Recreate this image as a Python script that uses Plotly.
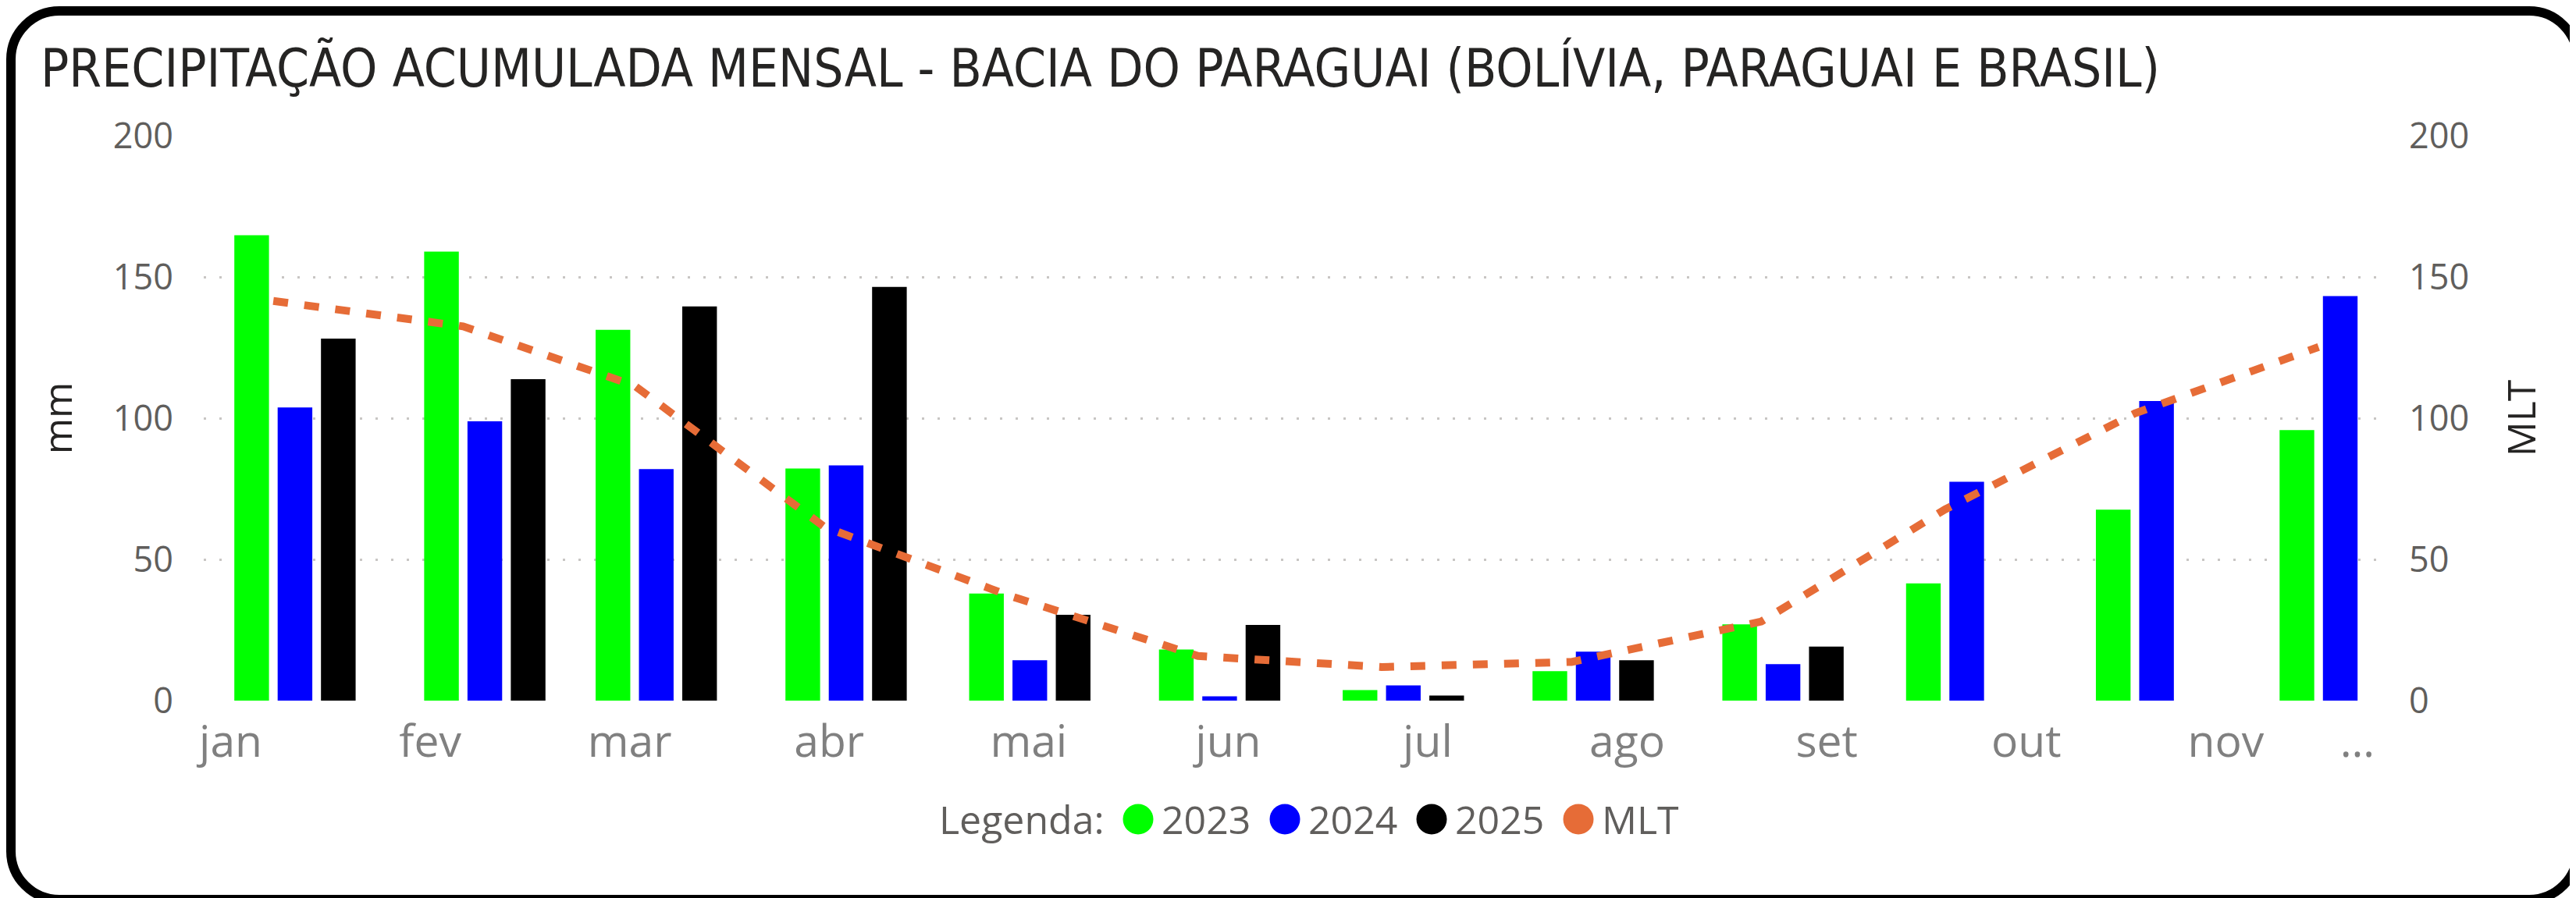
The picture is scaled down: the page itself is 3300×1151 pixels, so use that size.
import pandas as pd
import plotly.graph_objects as go

# ---------------- data ----------------
months = ["2025-01-01", "2025-02-01", "2025-03-01", "2025-04-01", "2025-05-01", "2025-06-01",
          "2025-07-01", "2025-08-01", "2025-09-01", "2025-10-01", "2025-11-01", "2025-12-01"]
month_labels = ["jan", "fev", "mar", "abr", "mai", "jun", "jul", "ago", "set", "out", "nov", "dez"]

v2023 = [164.8, 159.0, 131.3, 82.2, 37.9, 18.1, 3.7, 10.4, 27.0, 41.5, 67.6, 95.8]
v2024 = [103.8, 98.9, 82.0, 83.3, 14.3, 1.5, 5.4, 17.3, 12.9, 77.5, 106.1, 143.2]
v2025 = [128.2, 113.8, 139.6, 146.5, 30.4, 26.8, 1.8, 14.3, 19.1, None, None, None]
mlt = [141.5, 132.5, 111.5, 61.5, 37.3, 15.8, 11.9, 13.7, 28.0, 67.7, 101.7, 125.2]

y_ticks = [0, 50, 100, 150, 200]
series_names = ["2023", "2024", "2025", "MLT"]
series_colors = ["#00FF00", "#0000FF", "#000000", "#E66C37"]

title_text = "PRECIPITAÇÃO ACUMULADA MENSAL - BACIA DO PARAGUAI (BOLÍVIA, PARAGUAI E BRASIL)"

# ---------------- layout geometry ----------------
W, H = 3300, 1151
L, R, T, B = 253, 250, 166, 261
PW, PH = W - L - R, H - T - B

BARGAP = 0.242
BARGROUPGAP = 0.2
min_diff_days = 28.0
pitch_days = min_diff_days * (1 - BARGAP) / 3.0

base = pd.Timestamp(months[0])
x_range = [str(base - pd.Timedelta(days=14.9)), str(pd.Timestamp(months[-1]) + pd.Timedelta(days=7.65))]

# line points sit between first and second bar of each group
line_x = [str(pd.Timestamp(m) - pd.Timedelta(days=pitch_days / 2.0)) for m in months]

# category tick labels (evenly spaced as in the source visual; last one truncated)
tick_step = 32.58
tick_start = -10.5
tickvals = [str(base + pd.Timedelta(days=tick_start + tick_step * i)) for i in range(11)]
tickvals.append(str(base + pd.Timedelta(days=336.8)))
ticktext = month_labels[:11] + ["…"]


def px(x):
    return (x - L) / PW


def py(y):
    return 1 - (y - T) / PH


fig = go.Figure()
for name, vals, col in zip(series_names[:3], [v2023, v2024, v2025], series_colors[:3]):
    fig.add_trace(go.Bar(x=months, y=vals, name=name, marker=dict(color=col, line=dict(width=0)),
                         showlegend=False))

fig.add_trace(go.Scatter(x=line_x, y=mlt, name="MLT", mode="lines", yaxis="y2",
                         line=dict(color=series_colors[3], width=10, dash="19px,21px"),
                         showlegend=False))

axis_font = dict(family="Open Sans", size=45, color="#605E5C")
title_font = dict(family="Open Sans", size=50, color="#252423")

fig.update_layout(
    width=W, height=H,
    margin=dict(l=L, r=R, t=T, b=B, autoexpand=False),
    paper_bgcolor="white", plot_bgcolor="white",
    barmode="group", bargap=BARGAP, bargroupgap=BARGROUPGAP,
    showlegend=False,
    title=dict(text=title_text, x=44 / W, xanchor="left", xref="container",
               y=1 - 80 / H, yanchor="middle", yref="container",
               font=dict(family="DejaVu Sans Condensed", size=67, color="#252423")),
    xaxis=dict(type="date", range=x_range, tickmode="array", tickvals=tickvals, ticktext=ticktext,
               showgrid=False, zeroline=False, showline=False, ticks="",
               tickfont=dict(family="Open Sans", size=57, color="#808080"),
               ticklabelstandoff=14),
    yaxis=dict(range=[0, 200], tickmode="array", tickvals=y_ticks, showgrid=True,
               gridcolor="#C8C6C4", gridwidth=3, griddash="3px,17px", zeroline=False,
               showline=False, ticks="", tickfont=axis_font, ticklabelstandoff=38,
               title=dict(text="mm", font=title_font, standoff=36)),
    yaxis2=dict(range=[0, 200], overlaying="y", side="right", tickmode="array", tickvals=y_ticks,
                showgrid=False, zeroline=False, showline=False, ticks="", tickfont=axis_font,
                ticklabelstandoff=27,
                title=dict(text="MLT", font=title_font, standoff=50)),
)

# legend built to mimic the source visual (large round markers)
LEG_Y = 1042
legend_y = py(LEG_Y)
legend_font = dict(family="Open Sans", size=50, color="#605E5C")
annotations = [dict(text="Legenda:", x=px(1193), y=legend_y, xref="paper", yref="paper",
                    xanchor="left", yanchor="middle", showarrow=False, font=legend_font)]
shapes = []
for i, (name, col) in enumerate(zip(series_names, series_colors)):
    cx = 1450 + 188 * i
    rr = 19.5
    shapes.append(dict(type="circle", xref="paper", yref="paper",
                       x0=px(cx - rr), x1=px(cx + rr), y0=py(LEG_Y + rr), y1=py(LEG_Y - rr),
                       fillcolor=col, line=dict(width=0)))
    annotations.append(dict(text=name, x=px(cx + 28), y=legend_y, xref="paper", yref="paper",
                            xanchor="left", yanchor="middle", showarrow=False, font=legend_font))

# rounded frame around the visual
x0, y0, x1, y1, rad = 6, 6, W - 6, H - 6, 62
k = 0.5523 * rad


def P(x, y):
    return f"{px(x):.6f},{py(y):.6f}"


path = ("M " + P(x0 + rad, y0) + " L " + P(x1 - rad, y0) +
        " C " + P(x1 - rad + k, y0) + " " + P(x1, y0 + rad - k) + " " + P(x1, y0 + rad) +
        " L " + P(x1, y1 - rad) +
        " C " + P(x1, y1 - rad + k) + " " + P(x1 - rad + k, y1) + " " + P(x1 - rad, y1) +
        " L " + P(x0 + rad, y1) +
        " C " + P(x0 + rad - k, y1) + " " + P(x0, y1 - rad + k) + " " + P(x0, y1 - rad) +
        " L " + P(x0, y0 + rad) +
        " C " + P(x0, y0 + rad - k) + " " + P(x0 + rad - k, y0) + " " + P(x0 + rad, y0) + " Z")
shapes.append(dict(type="path", xref="paper", yref="paper", path=path,
                   line=dict(color="#000000", width=12), fillcolor="rgba(0,0,0,0)"))

fig.update_layout(annotations=annotations, shapes=shapes)

fig.write_html("out.html")
